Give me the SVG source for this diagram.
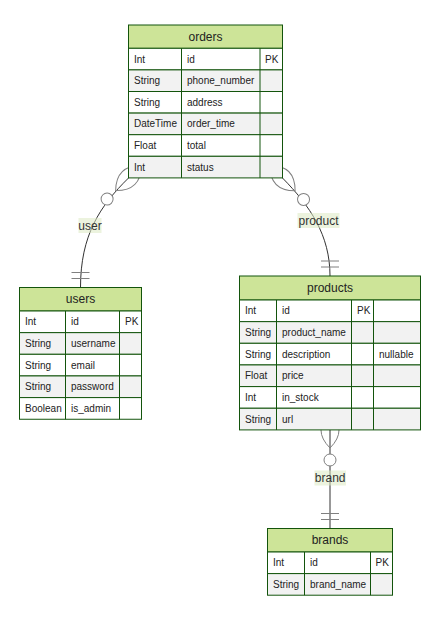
<svg xmlns="http://www.w3.org/2000/svg" width="448" height="620" viewBox="0 0 448 620">
  <style>
    .hdr { fill: #cde498; stroke: #13540c; stroke-width: 1; }
    .odd { fill: #ffffff; stroke: #13540c; stroke-width: 1; }
    .even { fill: #f2f2f2; stroke: #13540c; stroke-width: 1; }
    .col { stroke: #13540c; stroke-width: 1; }
    .title { font-family: "Liberation Sans", Arial, sans-serif; font-size: 12px; fill: #222; text-anchor: middle; dominant-baseline: central; }
    .attr { font-family: "Liberation Sans", Arial, sans-serif; font-size: 10px; fill: #222; dominant-baseline: central; }
    .rel { fill: none; stroke: #333; stroke-width: 1; }
    .lblbg { fill: #dce9c3; fill-opacity: 0.55; }
    .lbl { font-family: "Liberation Sans", Arial, sans-serif; font-size: 12px; fill: #333; text-anchor: middle; dominant-baseline: central; }
  </style>
  <defs>
    <marker id="zeroOrMoreStart" markerUnits="userSpaceOnUse" refX="18" refY="18" markerWidth="57" markerHeight="36" orient="auto" overflow="visible">
      <circle cx="48" cy="18" r="6" fill="#fff" stroke="gray" stroke-width="1"/>
      <path d="M0,18 Q18,0 36,18 Q18,36 0,18" fill="none" stroke="gray" stroke-width="1"/>
    </marker>
    <marker id="onlyOneEnd" markerUnits="userSpaceOnUse" refX="18" refY="9" markerWidth="18" markerHeight="18" orient="auto" overflow="visible">
      <path d="M3,0 L3,18 M9,0 L9,18" fill="none" stroke="gray" stroke-width="1"/>
    </marker>
  </defs>

  <!-- relationships (drawn beneath the entity boxes) -->
  <g id="connectors">
    <path class="rel" d="M128.5,178 C100,206 80.5,235 80.5,287.5" marker-start="url(#zeroOrMoreStart)" marker-end="url(#onlyOneEnd)"/>
    <path class="rel" d="M282.5,178 C310,206 330,235 330,276" marker-start="url(#zeroOrMoreStart)" marker-end="url(#onlyOneEnd)"/>
    <path class="rel" d="M330,430 L330,528.5" marker-start="url(#zeroOrMoreStart)" marker-end="url(#onlyOneEnd)"/>
    <rect class="lblbg" x="78.5" y="218" width="23" height="15"/>
    <text class="lbl" x="90" y="225.5">user</text>
    <rect class="lblbg" x="297.5" y="213" width="42" height="15"/>
    <text class="lbl" x="318.5" y="220.5">product</text>
    <rect class="lblbg" x="314.5" y="470.5" width="31.5" height="15"/>
    <text class="lbl" x="330.2" y="478">brand</text>
  </g>

  <!-- orders -->
  <g id="orders">
    <rect class="hdr" x="128.5" y="25" width="154" height="23.3"/>
    <text class="title" x="205.5" y="36.8">orders</text>
    <rect class="odd" x="128.5" y="48.3" width="154" height="21.6"/>
    <rect class="even" x="128.5" y="69.9" width="154" height="21.6"/>
    <rect class="odd" x="128.5" y="91.5" width="154" height="21.6"/>
    <rect class="even" x="128.5" y="113.1" width="154" height="21.6"/>
    <rect class="odd" x="128.5" y="134.7" width="154" height="21.6"/>
    <rect class="even" x="128.5" y="156.3" width="154" height="21.6"/>
    <path class="col" d="M181.5,48.3 V177.9 M260,48.3 V177.9"/>
    <text class="attr" x="134" y="59.1">Int</text><text class="attr" x="187" y="59.1">id</text><text class="attr" x="265" y="59.1">PK</text>
    <text class="attr" x="134" y="80.7">String</text><text class="attr" x="187" y="80.7">phone_number</text>
    <text class="attr" x="134" y="102.3">String</text><text class="attr" x="187" y="102.3">address</text>
    <text class="attr" x="134" y="123.9">DateTime</text><text class="attr" x="187" y="123.9">order_time</text>
    <text class="attr" x="134" y="145.5">Float</text><text class="attr" x="187" y="145.5">total</text>
    <text class="attr" x="134" y="167.1">Int</text><text class="attr" x="187" y="167.1">status</text>
  </g>

  <!-- users -->
  <g id="users">
    <rect class="hdr" x="19.5" y="287.5" width="122" height="23.5"/>
    <text class="title" x="80.5" y="299.3">users</text>
    <rect class="odd" x="19.5" y="311" width="122" height="21.65"/>
    <rect class="even" x="19.5" y="332.65" width="122" height="21.65"/>
    <rect class="odd" x="19.5" y="354.3" width="122" height="21.65"/>
    <rect class="even" x="19.5" y="375.95" width="122" height="21.65"/>
    <rect class="odd" x="19.5" y="397.6" width="122" height="21.65"/>
    <path class="col" d="M65.5,311 V419.25 M119.5,311 V419.25"/>
    <text class="attr" x="25" y="321.8">Int</text><text class="attr" x="71" y="321.8">id</text><text class="attr" x="125" y="321.8">PK</text>
    <text class="attr" x="25" y="343.5">String</text><text class="attr" x="71" y="343.5">username</text>
    <text class="attr" x="25" y="365.1">String</text><text class="attr" x="71" y="365.1">email</text>
    <text class="attr" x="25" y="386.8">String</text><text class="attr" x="71" y="386.8">password</text>
    <text class="attr" x="25" y="408.4">Boolean</text><text class="attr" x="71" y="408.4">is_admin</text>
  </g>

  <!-- products -->
  <g id="products">
    <rect class="hdr" x="239.5" y="276" width="181" height="24"/>
    <text class="title" x="330" y="288">products</text>
    <rect class="odd" x="239.5" y="300" width="181" height="21.65"/>
    <rect class="even" x="239.5" y="321.65" width="181" height="21.65"/>
    <rect class="odd" x="239.5" y="343.3" width="181" height="21.65"/>
    <rect class="even" x="239.5" y="364.95" width="181" height="21.65"/>
    <rect class="odd" x="239.5" y="386.6" width="181" height="21.65"/>
    <rect class="even" x="239.5" y="408.25" width="181" height="21.65"/>
    <path class="col" d="M276.5,300 V429.9 M351.5,300 V429.9 M373.5,300 V429.9"/>
    <text class="attr" x="245" y="310.8">Int</text><text class="attr" x="282" y="310.8">id</text><text class="attr" x="357" y="310.8">PK</text>
    <text class="attr" x="245" y="332.5">String</text><text class="attr" x="282" y="332.5">product_name</text>
    <text class="attr" x="245" y="354.1">String</text><text class="attr" x="282" y="354.1">description</text><text class="attr" x="379" y="354.1">nullable</text>
    <text class="attr" x="245" y="375.8">Float</text><text class="attr" x="282" y="375.8">price</text>
    <text class="attr" x="245" y="397.4">Int</text><text class="attr" x="282" y="397.4">in_stock</text>
    <text class="attr" x="245" y="419.1">String</text><text class="attr" x="282" y="419.1">url</text>
  </g>

  <!-- brands -->
  <g id="brands">
    <rect class="hdr" x="267.5" y="528.5" width="125" height="23.5"/>
    <text class="title" x="330" y="540.3">brands</text>
    <rect class="odd" x="267.5" y="552" width="125" height="21.6"/>
    <rect class="even" x="267.5" y="573.6" width="125" height="21.6"/>
    <path class="col" d="M304.5,552 V595.2 M370.5,552 V595.2"/>
    <text class="attr" x="273" y="562.8">Int</text><text class="attr" x="310" y="562.8">id</text><text class="attr" x="375.5" y="562.8">PK</text>
    <text class="attr" x="273" y="584.4">String</text><text class="attr" x="310" y="584.4">brand_name</text>
  </g>
</svg>
